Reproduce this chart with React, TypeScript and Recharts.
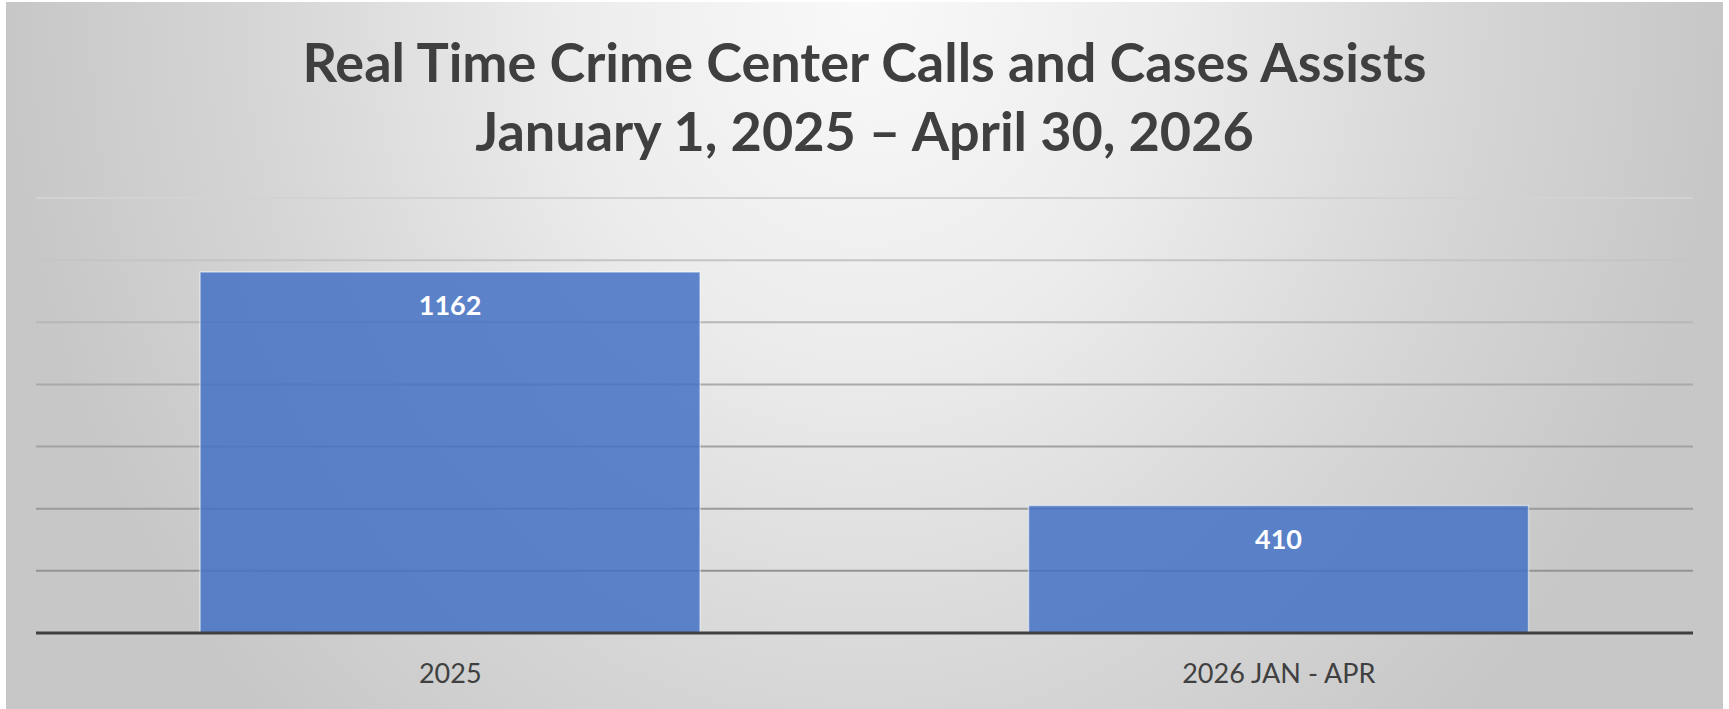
import { BarChart, Bar, XAxis, YAxis, CartesianGrid, LabelList } from "recharts";

const categories = ["2025", "2026 JAN - APR"];
const assists = [1162, 410];
const yTicks = [0, 200, 400, 600, 800, 1000, 1200, 1400];
const titleLines = [
  "Real Time Crime Center Calls and Cases Assists",
  "January 1, 2025 \u2013 April 30, 2026",
];

const data = categories.map((name, i) => ({ name, value: assists[i] }));

const W = 1717;
const H = 707;
const FONT = "Lato, 'Open Sans', sans-serif";

const App = () => {
  return (
    <div
      style={{
        position: "absolute",
        left: 6,
        top: 2,
        width: W,
        height: H,
        background:
          "radial-gradient(ellipse 860px 1000px at 50% 0%, #f9f9f9 0%, #ececec 35%, #d6d6d6 70%, #c7c7c7 100%)",
        fontFamily: FONT,
      }}
    >
      <BarChart
        width={W}
        height={H}
        data={data}
        margin={{ top: 196, right: 30, left: 30, bottom: 0 }}
        barCategoryGap="19.8%"
      >
        <defs>
          <linearGradient id="gridFade" x1="0" y1="190" x2="0" y2="631" gradientUnits="userSpaceOnUse">
            <stop offset="0%" stopColor="#d4d4d4" />
            <stop offset="45%" stopColor="#a8a8a8" />
            <stop offset="100%" stopColor="#8c8c8c" />
          </linearGradient>
        </defs>
        <CartesianGrid vertical={false} stroke="url(#gridFade)" strokeWidth={2} />
        <YAxis hide domain={[0, 1400]} ticks={yTicks} />
        <XAxis
          dataKey="name"
          height={76}
          tickSize={0}
          tickMargin={31}
          tickLine={false}
          axisLine={{ stroke: "#404040", strokeWidth: 3 }}
          tick={{ fill: "#404040", fontSize: 27, fontFamily: FONT }}
        />
        <Bar
          dataKey="value"
          fill="#4472C4"
          fillOpacity={0.85}
          stroke="#ffffff"
          strokeOpacity={0.5}
          strokeWidth={1.5}
          isAnimationActive={false}
        >
          <LabelList
            dataKey="value"
            position="insideTop"
            offset={24}
            fill="#ffffff"
            fontSize={27}
            fontWeight="bold"
            fontFamily={FONT}
          />
        </Bar>
      </BarChart>
      <svg
        width={W}
        height={200}
        style={{ position: "absolute", left: 0, top: 0, pointerEvents: "none" }}
      >
        <text x={W / 2} y={80} textAnchor="middle" fill="#3f3f3f" fontSize={54} fontWeight="bold" fontFamily={FONT}>
          {titleLines[0]}
        </text>
        <text x={W / 2} y={149} textAnchor="middle" fill="#3f3f3f" fontSize={54} fontWeight="bold" fontFamily={FONT}>
          {titleLines[1]}
        </text>
      </svg>
    </div>
  );
};

export default App;
